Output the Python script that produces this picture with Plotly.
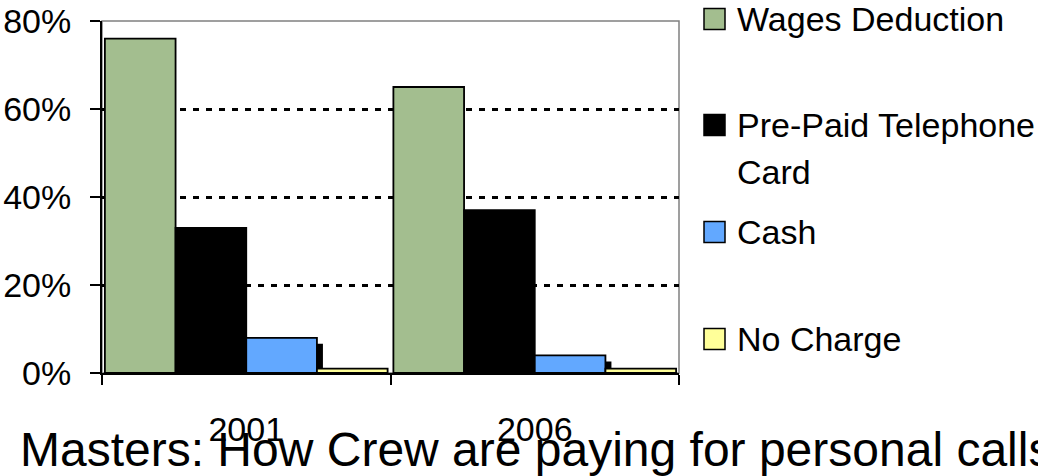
import plotly.graph_objects as go

# ---------------- data ----------------
years = ["2001", "2006"]
series_names = ["Wages Deduction", "Pre-Paid Telephone Card", "Cash", "No Charge"]
wages = [76, 65]
prepaid = [33, 37]
cash = [8, 4]
no_charge = [1, 1]
y_tick_values = [0, 20, 40, 60, 80]
y_tick_labels = ["0%", "20%", "40%", "60%", "80%"]
legend_lines = [["Wages Deduction"], ["Pre-Paid Telephone", "Card"], ["Cash"], ["No Charge"]]
title_text = "Masters: How Crew are paying for personal calls"

# ---------------- layout constants ----------------
W, H = 1038, 476
ML, MR, MT, MB = 102, 359, 21, 103
PW = W - ML - MR
PH = H - MT - MB
Y_MAX = 80
colors = ["#A3BE8F", "#000000", "#62A8FF", "#FFFF99"]
FONT = "Arial, 'Liberation Sans', sans-serif"
BARGAP = 0.02
slot = (1 - BARGAP) / 4
cash_offset = -(1 - BARGAP) / 2 + 2 * slot
shadow_dx = 6 / (PW / len(years))
shadow_dy = 6 / PH * Y_MAX


def px_x(px):
    return (px - ML) / PW


def px_y(py):
    return (H - MB - py) / PH


fig = go.Figure()
edge = dict(color="#000000", width=1.8)
fig.add_bar(x=years, y=wages, name=series_names[0], offsetgroup="w",
            marker=dict(color=colors[0], line=edge))
fig.add_bar(x=years, y=prepaid, name=series_names[1], offsetgroup="p",
            marker=dict(color=colors[1], line=edge))
# drop shadow of the Cash bars
fig.add_bar(x=years, y=cash, base=-shadow_dy, offsetgroup="c",
            offset=cash_offset + shadow_dx, width=slot,
            marker=dict(color="#000000", line=dict(width=0)),
            hoverinfo="skip", showlegend=False)
fig.add_bar(x=years, y=cash, name=series_names[2], offsetgroup="c",
            marker=dict(color=colors[2], line=edge))
fig.add_bar(x=years, y=no_charge, name=series_names[3], offsetgroup="n",
            marker=dict(color=colors[3], line=edge))

# ---------------- manual legend ----------------
legend_centers = [19, 125, 232, 339]
line_step = 47
annotations = []
shapes = [dict(type="rect", xref="paper", yref="paper", x0=0, x1=1, y0=0, y1=1,
               line=dict(color="#808080", width=1.5), layer="below")]
for i, lines in enumerate(legend_lines):
    c = legend_centers[i]
    shapes.append(dict(type="rect", xref="paper", yref="paper",
                       x0=px_x(704), x1=px_x(725), y0=px_y(c + 10.5), y1=px_y(c - 10.5),
                       fillcolor=colors[i], line=dict(color="#000000", width=1.5)))
    for j, t in enumerate(lines):
        annotations.append(dict(text=t, xref="paper", yref="paper",
                                x=px_x(735), y=px_y(c + j * line_step),
                                xanchor="left", yanchor="middle", showarrow=False,
                                font=dict(family=FONT, size=34, color="#000000")))

fig.update_layout(
    width=W, height=H,
    margin=dict(l=ML, r=MR, t=MT, b=MB, pad=0, autoexpand=False),
    paper_bgcolor="#FFFFFF", plot_bgcolor="#FFFFFF",
    barmode="group", bargap=BARGAP, bargroupgap=0,
    showlegend=False,
    font=dict(family=FONT, size=34, color="#000000"),
    title=dict(text=title_text, xref="container", yref="container",
               x=20 / W, xanchor="left", y=10 / H, yanchor="bottom",
               font=dict(family=FONT, size=48, color="#000000")),
    annotations=annotations,
    shapes=shapes,
)
fig.update_xaxes(type="category", showline=True, linecolor="#000000", linewidth=2,
                 ticks="outside", tickson="boundaries", ticklen=10, tickwidth=1.5,
                 tickcolor="#000000", tickfont=dict(size=34), ticklabelstandoff=25,
                 showgrid=False, zeroline=False, automargin=False)
fig.update_yaxes(range=[0, Y_MAX], tickvals=y_tick_values, ticktext=y_tick_labels,
                 showline=True, linecolor="#000000", linewidth=2,
                 ticks="outside", ticklen=10, tickwidth=2, tickcolor="#000000",
                 tickfont=dict(size=34), ticklabelstandoff=12,
                 showgrid=True, gridcolor="#000000", gridwidth=2.8, griddash="6px,7px",
                 zeroline=False, automargin=False)

fig.write_html("out.html", config={"displayModeBar": False},
               post_script="document.body.style.margin='0';")
